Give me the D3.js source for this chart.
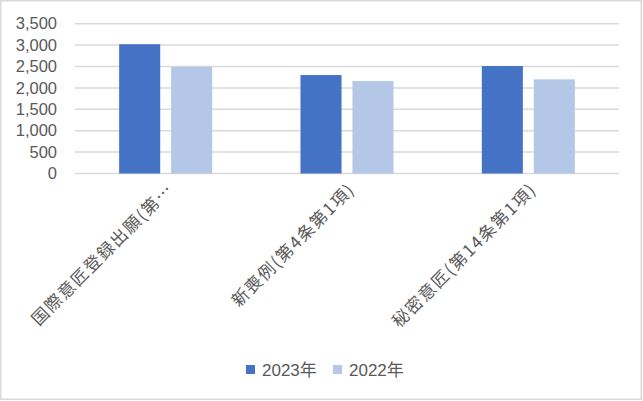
<!DOCTYPE html>
<html><head><meta charset="utf-8">
<script src="https://cdn.jsdelivr.net/npm/d3@7"></script>
<style>
html,body{margin:0;padding:0;background:#fff;}
svg{display:block;font-family:"Liberation Sans","Noto Sans CJK JP",sans-serif;}
</style></head>
<body>
<script>
const categories = ["国際意匠登録出願(第…", "新喪例(第4条第1項)", "秘密意匠(第14条第1項)"];
const seriesNames = ["2023年", "2022年"];
const values2023 = [3020, 2300, 2510];
const values2022 = [2490, 2160, 2200];
const yTicks = [0, 500, 1000, 1500, 2000, 2500, 3000, 3500];
const colors = ["#4472C4", "#B4C7E7"];

const W = 643, H = 401;
const svg = d3.select("body").append("svg").attr("width", W).attr("height", H);
svg.append("rect").attr("x", 0.75).attr("y", 0.75).attr("width", W - 2.5).attr("height", H - 2.5)
  .attr("fill", "#fff").attr("stroke", "#d9d9d9").attr("stroke-width", 1.5);

const pL = 75, pR = 619, pT = 23.7, pB = 173.5;
const y = d3.scaleLinear().domain([0, 3500]).range([pB, pT]);
const x0 = d3.scaleBand().domain(categories).range([pL, pR]).paddingInner(0.487).paddingOuter(0.2435);
const x1 = d3.scaleBand().domain(seriesNames).range([0, x0.bandwidth()]).paddingInner(0.21);

// gridlines
svg.append("g").selectAll("line").data(yTicks).join("line")
  .attr("x1", pL).attr("x2", pR)
  .attr("y1", d => y(d)).attr("y2", d => y(d))
  .attr("stroke", "#d9d9d9").attr("stroke-width", 1.5);

// y axis labels
const yAxis = d3.axisLeft(y).tickValues(yTicks).tickFormat(d3.format(",")).tickSize(0).tickPadding(0);
const ya = svg.append("g").attr("transform", `translate(${57},0)`).call(yAxis);
ya.select(".domain").remove();
ya.selectAll("text").attr("font-size", 16.5).attr("fill", "#595959")
  .attr("font-family", "'Liberation Sans',sans-serif");

const data = categories.map((c, i) => ({c, vals: [values2023[i], values2022[i]]}));
const g = svg.append("g").selectAll("g").data(data).join("g")
  .attr("transform", d => `translate(${x0(d.c)},0)`);
g.selectAll("rect").data(d => d.vals.map((v, k) => ({k, v}))).join("rect")
  .attr("x", d => x1(seriesNames[d.k]))
  .attr("width", x1.bandwidth())
  .attr("y", d => y(d.v))
  .attr("height", d => y(0) - y(d.v))
  .attr("fill", d => colors[d.k]);

// category labels
const xAxis = d3.axisBottom(x0).tickSize(0).tickPadding(0);
const xa = svg.append("g").attr("transform", `translate(0,${pB})`).call(xAxis);
xa.select(".domain").remove();
xa.selectAll("text")
  .attr("font-size", 17).attr("fill", "#595959")
  .attr("letter-spacing", 1.5)
  .attr("font-family", "'Noto Sans CJK JP',sans-serif")
  .attr("text-anchor", "end").attr("dy", null)
  .attr("transform", "translate(9,17) rotate(-45)");

// legend
const legX = [246, 333];
const leg = svg.append("g").selectAll("g").data(seriesNames).join("g")
  .attr("transform", (d, i) => `translate(${legX[i]},365)`);
leg.append("rect").attr("width", 9).attr("height", 9).attr("fill", (d, i) => colors[i]);
leg.append("text").attr("x", 16).attr("y", 10.5).attr("font-size", 17).attr("fill", "#595959").text(d => d);
</script>
</body></html>
